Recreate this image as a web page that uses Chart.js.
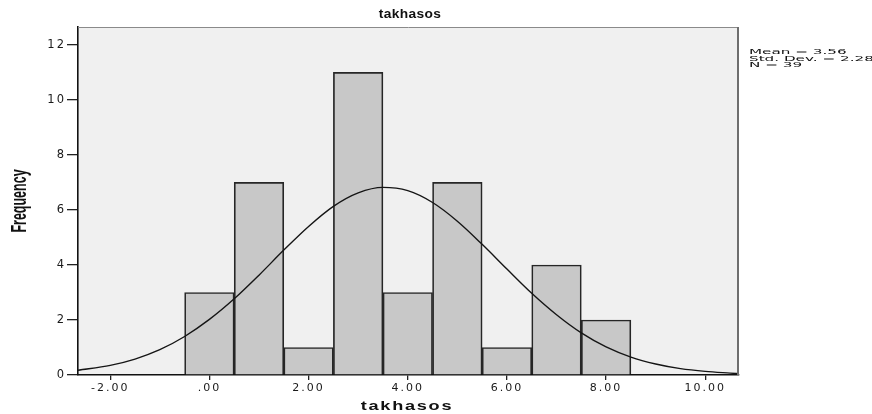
<!DOCTYPE html>
<html>
<head>
<meta charset="utf-8">
<script src="https://cdn.jsdelivr.net/npm/chart.js@4.4.1/dist/chart.umd.min.js"></script>
<style>
  html, body { margin: 0; padding: 0; background: #ffffff; }
  #wrap { width: 872px; height: 414px; position: relative; }
</style>
</head>
<body>
<div id="wrap"><canvas id="c"></canvas></div>
<script>
// ---- data ----
const chartTitle = 'takhasos';
const xAxisTitle = 'takhasos';
const yAxisTitle = 'Frequency';
const categories = [0, 1, 2, 3, 4, 5, 6, 7, 8];
const frequencies = [3, 7, 1, 11, 3, 7, 1, 4, 2];
const xTicks = [-2, 0, 2, 4, 6, 8, 10];
const xTickLabels = ['-2.00', '.00', '2.00', '4.00', '6.00', '8.00', '10.00'];
const yTicks = [0, 2, 4, 6, 8, 10, 12];
const curveX = [-2.65, -2, -1.5, -1, -0.5, 0, 0.5, 1, 1.5, 2, 2.5, 3, 3.5, 4, 4.5, 5, 5.5, 6, 6.5, 7, 7.5, 8, 8.5, 9, 9.5, 10, 10.5, 10.68];
const curveY = [0.17, 0.35, 0.58, 0.92, 1.40, 2.02, 2.77, 3.63, 4.54, 5.40, 6.13, 6.62, 6.82, 6.70, 6.27, 5.59, 4.75, 3.85, 2.97, 2.19, 1.53, 1.02, 0.65, 0.40, 0.23, 0.13, 0.07, 0.05];
const statsLines = ['Mean = 3.56', 'Std. Dev. = 2.28', 'N = 39'];

const X_MIN = -2.65, X_MAX = 10.68, Y_MIN = 0, Y_MAX = 12.65;

const spacingPlugin = {
  id: 'spacing',
  beforeLayout(chart) { chart.ctx.letterSpacing = '2px'; },
  beforeDraw(chart) {
    const ctx = chart.ctx, a = chart.chartArea;
    ctx.letterSpacing = '2px';
    ctx.save();
    ctx.fillStyle = '#f0f0f0';
    ctx.fillRect(a.left, a.top, a.right - a.left, a.bottom - a.top);
    ctx.restore();
  },
  afterDraw(chart) {
    const ctx = chart.ctx, a = chart.chartArea;
    ctx.save();
    ctx.letterSpacing = '0px';
    // top and right frame
    ctx.strokeStyle = '#8a8a8a';
    ctx.lineWidth = 1;
    ctx.beginPath();
    ctx.moveTo(a.left, a.top + 0.5);
    ctx.lineTo(a.right, a.top + 0.5);
    ctx.stroke();
    ctx.strokeStyle = '#6e6e6e';
    ctx.lineWidth = 2;
    ctx.beginPath();
    ctx.moveTo(a.right - 1, a.top);
    ctx.lineTo(a.right - 1, a.bottom);
    ctx.stroke();

    ctx.fillStyle = '#111';
    // chart title
    ctx.save();
    ctx.font = 'bold 12.5px "Liberation Sans", Arial, sans-serif';
    ctx.textAlign = 'center';
    ctx.textBaseline = 'alphabetic';
    ctx.translate(410, 18);
    ctx.scale(1.1, 1);
    ctx.letterSpacing = '0.3px';
    ctx.fillText(chartTitle, 0, 0);
    ctx.restore();

    // x axis title
    ctx.save();
    ctx.font = 'bold 12.5px "Liberation Sans", Arial, sans-serif';
    ctx.textAlign = 'center';
    ctx.textBaseline = 'alphabetic';
    ctx.translate(407, 410);
    ctx.scale(1.45, 1);
    ctx.letterSpacing = '1.2px';
    ctx.fillText(xAxisTitle, 0, 0);
    ctx.restore();

    // y axis title
    ctx.save();
    ctx.font = 'bold 12.5px "Liberation Sans", Arial, sans-serif';
    ctx.textAlign = 'center';
    ctx.textBaseline = 'middle';
    ctx.translate(20, 201);
    ctx.scale(1.8, 1);
    ctx.rotate(-Math.PI / 2);
    ctx.fillText(yAxisTitle, 0, 0);
    ctx.restore();

    // stats text
    ctx.font = '9.5px "DejaVu Sans", sans-serif';
    ctx.textAlign = 'left';
    ctx.textBaseline = 'alphabetic';
    const baselines = [53.5, 60.5, 67];
    statsLines.forEach((t, i) => {
      ctx.save();
      ctx.translate(749, baselines[i]);
      ctx.scale(1.6, 0.8);
      ctx.fillText(t, 0, 0);
      ctx.restore();
    });
    ctx.restore();
  }
};

new Chart(document.getElementById('c'), {
  type: 'bar',
  data: {
    datasets: [
      {
        type: 'line',
        order: 0,
        data: curveX.map((x, i) => ({ x: x, y: curveY[i] })),
        borderColor: '#151515',
        borderWidth: 1.4,
        pointRadius: 0,
        cubicInterpolationMode: 'monotone',
        fill: false
      },
      {
        type: 'bar',
        order: 1,
        data: categories.map((c, i) => ({ x: c, y: frequencies[i] })),
        backgroundColor: '#c8c8c8',
        borderColor: '#262626',
        borderWidth: 1.7,
        barPercentage: 1,
        categoryPercentage: 1
      }
    ]
  },
  options: {
    responsive: true,
    maintainAspectRatio: false,
    animation: false,
    events: [],
    layout: { padding: { left: 0, right: 133, top: 27, bottom: 0 } },
    plugins: {
      legend: { display: false },
      tooltip: { enabled: false },
      title: { display: false }
    },
    scales: {
      x: {
        type: 'linear',
        offset: false,
        min: X_MIN,
        max: X_MAX,
        afterBuildTicks: (s) => { s.ticks = xTicks.map(v => ({ value: v })); },
        afterFit: (s) => { s.height = 39; },
        grid: { display: true, offset: false, drawOnChartArea: false, drawTicks: true, tickLength: 5, tickColor: '#222', lineWidth: 1.3 },
        border: { display: true, color: '#111', width: 1.6 },
        ticks: {
          autoSkip: false, maxRotation: 0, minRotation: 0, padding: 2,
          color: '#1a1a1a',
          font: { family: '"DejaVu Sans", sans-serif', size: 11 },
          callback: (v) => { const i = xTicks.indexOf(v); return i >= 0 ? xTickLabels[i] : ''; }
        },
        title: { display: false }
      },
      y: {
        type: 'linear',
        min: Y_MIN,
        max: Y_MAX,
        afterBuildTicks: (s) => { s.ticks = yTicks.map(v => ({ value: v })); },
        afterFit: (s) => { s.width = 78; },
        grid: { display: true, offset: false, drawOnChartArea: false, drawTicks: true, tickLength: 11, tickColor: '#222', lineWidth: 1.3 },
        border: { display: true, color: '#111', width: 1.6 },
        ticks: {
          padding: 1,
          color: '#1a1a1a',
          font: { family: '"DejaVu Sans", sans-serif', size: 11.5 },
          callback: (v) => String(v)
        },
        title: { display: false }
      }
    }
  },
  plugins: [spacingPlugin]
});
</script>
</body>
</html>
